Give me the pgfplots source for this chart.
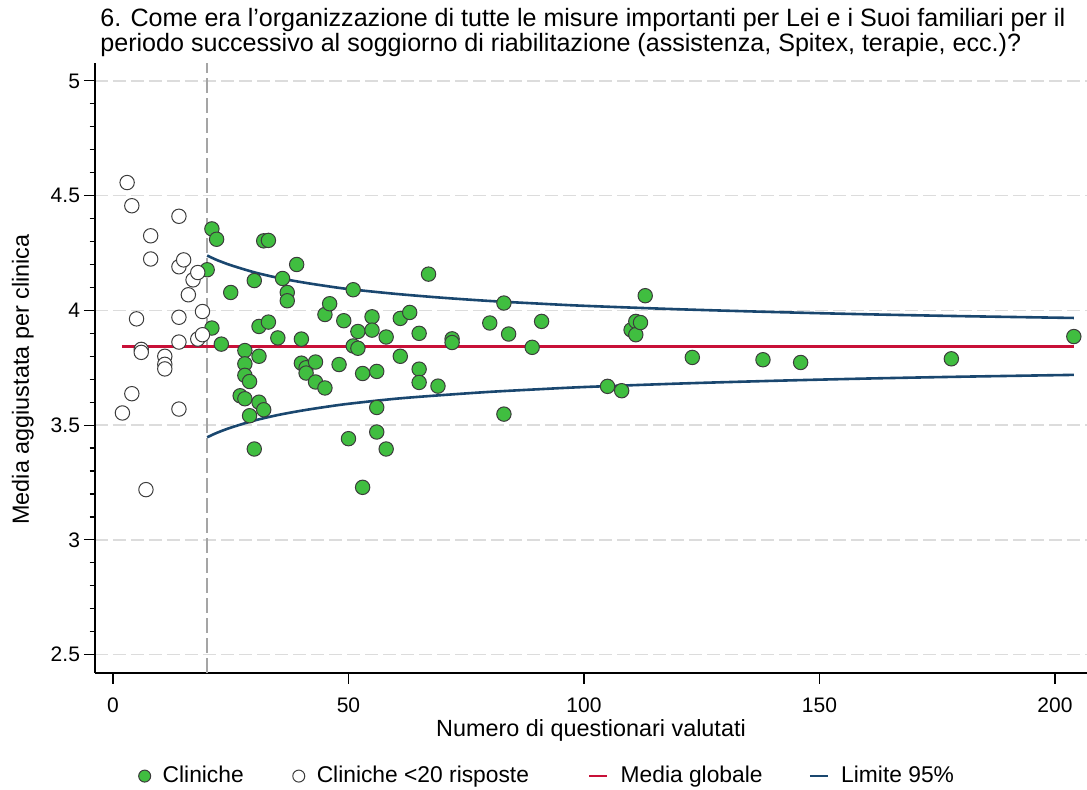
\documentclass[border=0pt]{standalone}
\usepackage{fontspec}
\setmainfont{Liberation Sans}
\usepackage{pgfplots}
\pgfplotsset{compat=1.18}
\setlength{\parindent}{0pt}
\definecolor{mgreen}{RGB}{64,190,64}
\definecolor{medge}{RGB}{60,60,60}
\definecolor{mred}{RGB}{200,16,56}
\definecolor{mnavy}{RGB}{26,71,111}
\definecolor{mgrid}{RGB}{220,220,220}
\definecolor{mvline}{RGB}{165,165,165}
\pgfplotsset{
  markleg/.style={legend image code/.code={\draw[##1,mark size=3pt] plot coordinates {(0pt,0pt)};}},
  lineleg/.style={legend image code/.code={\draw[##1] (0pt,0pt) -- (9pt,0pt);}},
}
\begin{document}
\begin{tikzpicture}
\begin{axis}[
  name=ax,
  scale only axis, width=496pt, height=305pt,
  xmin=-3.82, xmax=206.8, ymin=2.42, ymax=5.078,
  axis x line*=bottom, axis y line*=left,
  axis line style={line width=0.6pt, black, -},
  tick align=outside,
  xtick={0,50,100,150,200},
  ytick={2.5,3,3.5,4,4.5,5},
  minor y tick num=4,
  major tick length=5.5pt, minor tick length=2.7pt,
  every tick/.style={black, line width=0.6pt},
  ymajorgrids,
  grid style={mgrid, line width=0.8pt, dash pattern=on 6.5pt off 2.5pt},
  font=\fontsize{10.5}{12.6}\selectfont,
  /pgf/number format/assume math mode=true,
  xticklabel style={yshift=-3.5pt},
  yticklabel style={xshift=1.5pt},
  title={6. Come era l’organizzazione di tutte le misure importanti per Lei e i Suoi familiari per il\\periodo successivo al soggiorno di riabilitazione (assistenza, Spitex, terapie, ecc.)?},
  title style={at={(0,1)}, anchor=south west, align=left, inner sep=0pt, xshift=2.5pt, yshift=-3pt, font=\fontsize{12.55}{12.2}\selectfont},
  xlabel={Numero di questionari valutati},
  xlabel style={at={(axis description cs:0.5,0)}, anchor=base, yshift=-32pt, font=\fontsize{11.7}{13}\selectfont},
  ylabel={Media aggiustata per clinica},
  ylabel style={at={(axis description cs:0,0.481)}, anchor=base, yshift=33pt, font=\fontsize{11.7}{13}\selectfont},
  legend style={at={(0.457,-0.169)}, anchor=center, draw=none, fill=none,
    font=\fontsize{11.4}{13}\selectfont,
    /tikz/every odd column/.append style={column sep=4pt},
    /tikz/column 2/.append style={column sep=22.5pt},
    /tikz/column 4/.append style={column sep=27.5pt},
    /tikz/column 6/.append style={column sep=21pt}},
  legend columns=4,
  clip=false,
]
% reference lines (drawn behind the markers)
\addplot[mvline, line width=1pt, dash pattern=on 7.5pt off 2.5pt, forget plot] coordinates {(20,2.42) (20,5.078)};
\addplot[mred, line width=1.3pt, forget plot] coordinates {(2,3.843) (204,3.843)};
\addplot[mnavy, line width=1.3pt, smooth, forget plot] coordinates {
(20,4.239) (22,4.220) (25,4.197) (30,4.166) (35,4.142) (40,4.123) (45,4.107) (50,4.093) (60,4.072) (70,4.055) (80,4.041) (90,4.030) (100,4.020) (120,4.005) (140,3.993) (160,3.983) (180,3.975) (204,3.967)};
\addplot[mnavy, line width=1.3pt, smooth, forget plot] coordinates {
(20,3.447) (22,3.466) (25,3.489) (30,3.520) (35,3.544) (40,3.563) (45,3.579) (50,3.593) (60,3.615) (70,3.631) (80,3.645) (90,3.656) (100,3.666) (120,3.681) (140,3.693) (160,3.703) (180,3.711) (204,3.719)};
% clinics with at least 20 answers
\addplot[only marks, mark=*, mark size=3.6pt, mark options={fill=mgreen, draw=medge, line width=0.5pt}, markleg] coordinates {
(20,4.177) (21,4.355) (21,3.923) (22,4.31) (23,3.853) (25,4.078) (27,3.628)
(28,3.825) (28,3.767) (28,3.717) (28,3.615) (29,3.69) (29,3.541) (30,4.13) (30,3.396)
(31,3.93) (31,3.80) (31,3.60) (32,4.303) (32,3.567) (33,4.305) (33,3.949) (35,3.88)
(36,4.139) (37,4.078) (37,4.042) (39,4.20) (40,3.875) (40,3.77) (41,3.75) (41,3.727)
(43,3.775) (43,3.688) (45,3.982) (45,3.662) (46,4.029) (48,3.764) (49,3.955) (50,3.441)
(51,4.09) (51,3.845) (52,3.908) (52,3.835) (53,3.725) (53,3.229) (55,3.972) (55,3.914)
(56,3.734) (56,3.577) (56,3.47) (58,3.884) (58,3.396) (61,3.965) (61,3.80) (63,3.991)
(65,3.90) (65,3.744) (65,3.686) (67,4.158) (69,3.67) (72,3.876) (72,3.86) (80,3.945)
(83,4.032) (83,3.548) (84,3.897) (89,3.839) (91,3.952) (105,3.669) (108,3.65)
(110,3.915) (111,3.952) (111,3.894) (112,3.947) (113,4.064) (123,3.795) (138,3.785)
(146,3.773) (178,3.789) (204,3.886)};
\addlegendentry{Cliniche}
% clinics with fewer than 20 answers
\addplot[only marks, mark=*, mark size=3.6pt, mark options={fill=white, draw=medge, line width=0.5pt}, markleg] coordinates {
(2,3.553) (3,4.557) (4,4.456) (4,3.637) (5,3.963) (6,3.83) (6,3.817) (7,3.219)
(8,4.325) (8,4.224) (11,3.80) (11,3.765) (11,3.745) (14,4.41) (14,4.19) (14,3.97)
(14,3.862) (14,3.57) (15,4.22) (16,4.068) (17,4.133) (18,4.165) (18,3.875)
(19,3.995) (19,3.894)};
\addlegendentry{Cliniche <20 risposte}
\addlegendimage{mred, line width=1.3pt, lineleg}
\addlegendentry{Media globale}
\addlegendimage{mnavy, line width=1.3pt, lineleg}
\addlegendentry{Limite 95\%}
\end{axis}
\pgfresetboundingbox
\path (ax.south west) ++(-47.5pt,-58.5pt) rectangle ++(543.5pt,395pt);
\end{tikzpicture}
\end{document}
